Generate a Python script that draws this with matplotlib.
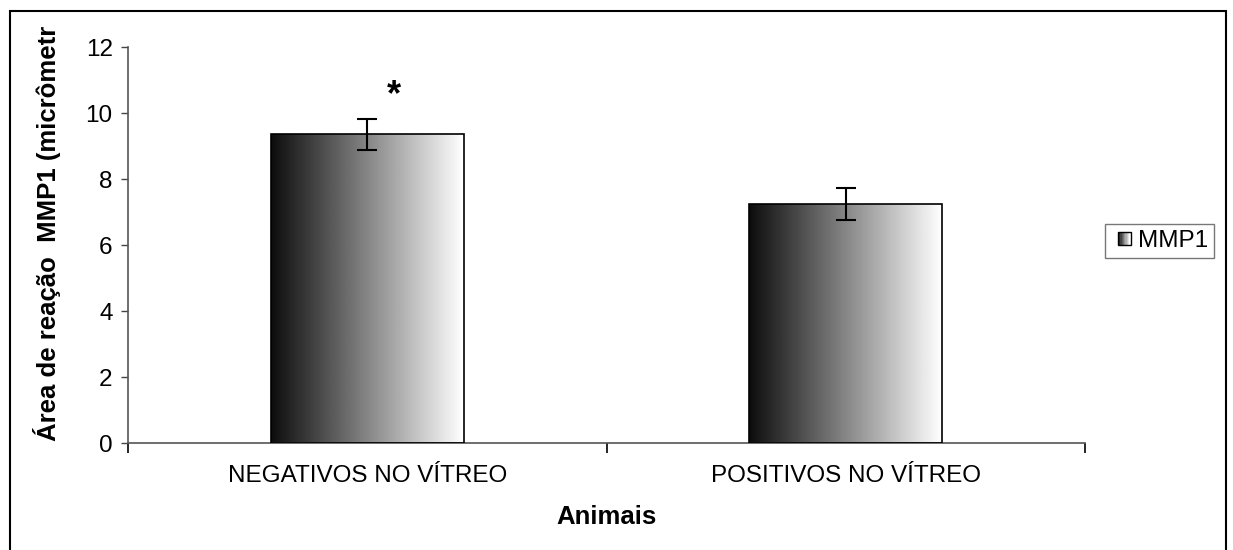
import numpy as np
import matplotlib
matplotlib.use('Agg')
from matplotlib import pyplot as plt
from matplotlib.patches import Rectangle
from matplotlib.legend_handler import HandlerBase

plt.rcParams['font.family'] = ['Liberation Sans', 'DejaVu Sans']

groups = ['NEGATIVOS NO VÍTREO', 'POSITIVOS NO VÍTREO']
means = [9.35, 7.25]
errors = [0.48, 0.49]
marks = ['*', '']
series = 'MMP1'
y_ticks = [0, 2, 4, 6, 8, 10, 12]
# the label is cut off at the top of the picture, keep it cut
y_label = 'Área de reação  MMP1 (micrômetr'


class GradientHandler(HandlerBase):
    # legend key: small box filled black -> white, like the bars
    def create_artists(self, legend, orig, xd, yd, width, height, fontsize, trans):
        side = height * 0.75
        x0, y0 = xd + width - side, yd + (height - side) / 2
        n = 10
        arts = []
        for i in range(n):
            c = str(0.05 + 0.95 * i / (n - 1))
            arts.append(Rectangle((x0 + side * i / n, y0), side / n, side,
                                  facecolor=c, edgecolor='none', transform=trans))
        arts.append(Rectangle((x0, y0), side, side, facecolor='none',
                              edgecolor='black', lw=1, transform=trans))
        return arts


fig = plt.figure(figsize=(12.33, 5.5), dpi=100)
ax = fig.add_axes([128 / 1233, 1 - 443 / 550, (1085 - 128) / 1233, (443 - 47) / 550])

x = np.arange(len(groups))
bars = ax.bar(x, means, width=0.403, facecolor='none', edgecolor='black', lw=1.2, zorder=3)

grad = np.linspace(0.05, 1.0, 256).reshape(1, -1)
for b in bars:
    im = ax.imshow(grad, cmap='gray', vmin=0, vmax=1, aspect='auto', zorder=2,
                   extent=[b.get_x(), b.get_x() + b.get_width(), 0, b.get_height()])
    im.set_clip_path(b)

ax.errorbar(x, means, yerr=errors, fmt='none', ecolor='black', elinewidth=1.5,
            capsize=7, capthick=1.5, zorder=4)

for xi, m, e, t in zip(x, means, errors, marks):
    if t:
        ax.text(xi + 0.055, m + e + 0.15, t, ha='center', va='bottom',
                fontsize=26, fontweight='bold')

ax.set_xlim(-0.5, len(groups) - 0.5)
ax.set_ylim(0, 12)
ax.set_yticks(y_ticks)
ax.set_xticks(x)
ax.set_xticklabels(groups, fontsize=17.5)
ax.set_xticks(np.arange(len(groups) + 1) - 0.5, minor=True)
ax.tick_params(axis='x', which='major', length=0, pad=16)
ax.tick_params(axis='x', which='minor', length=7, width=1.2, direction='out', color='black')
ax.tick_params(axis='y', length=5, width=1, direction='out', labelsize=17.5, pad=6, color='#444444')

for s in ['top', 'right']:
    ax.spines[s].set_visible(False)
for s in ['left', 'bottom']:
    ax.spines[s].set_color('#555555')
    ax.spines[s].set_linewidth(1.2)

leg_handle = Rectangle((0, 0), 1, 1)
leg = fig.legend([leg_handle], [series], handler_map={Rectangle: GradientHandler()},
                 loc='center left', bbox_to_anchor=(1105 / 1233, 1 - 241 / 550),
                 fontsize=17.5, frameon=True, fancybox=False, handlelength=0.8,
                 handletextpad=0.3, borderpad=0.25, borderaxespad=0)
leg.get_frame().set_edgecolor('#555555')
leg.get_frame().set_linewidth(1.0)

fig.text(606.5 / 1233, 1 - 517 / 550, 'Animais', ha='center', va='center',
         fontsize=18.5, fontweight='bold')

fig.text(47 / 1233, 1 - 441 / 550, y_label,
         rotation=90, rotation_mode='anchor', ha='left', va='center',
         fontsize=18.5, fontweight='bold')

fig.add_artist(Rectangle((9.5 / 1233, -0.1), (1225.5 - 9.5) / 1233, 1.1 - 11 / 550,
                         transform=fig.transFigure, facecolor='none',
                         edgecolor='black', lw=1.5))

fig.savefig('out.png', dpi=100)
